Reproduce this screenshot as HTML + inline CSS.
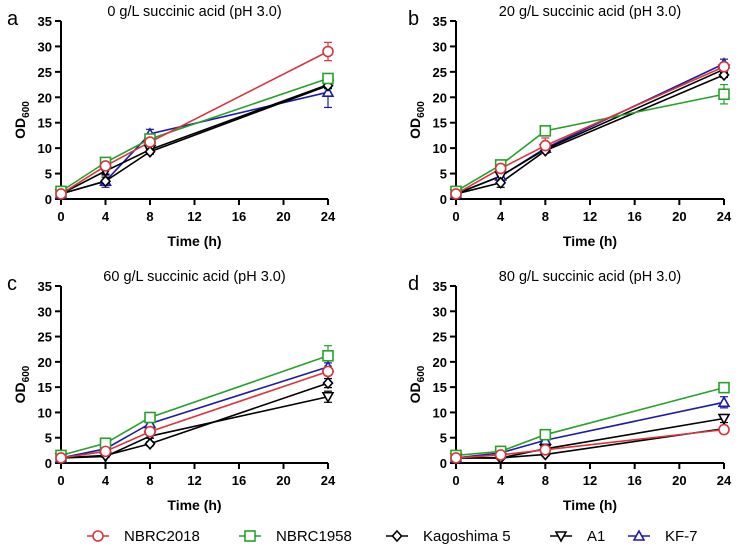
<!DOCTYPE html>
<html><head><meta charset="utf-8"><style>
body{margin:0;background:#fff;width:744px;height:552px;overflow:hidden;font-family:"Liberation Sans",Arial,sans-serif}
svg text{font-family:"Liberation Sans",Arial,sans-serif}
</style></head><body>
<svg id="c" width="744" height="552" xmlns="http://www.w3.org/2000/svg"></svg>
<script>
const times=[0,4,8,24];
const seriesNames=["NBRC2018","NBRC1958","Kagoshima 5","A1","KF-7"];
const seriesColors=["#d8363c","#27a12a","#000","#000","#1c1ca8"];
const yTicks=[0,5,10,15,20,25,30,35];
const xTicks=[0,4,8,12,16,20,24];
const panelTitles=["0 g/L succinic acid (pH 3.0)","20 g/L succinic acid (pH 3.0)","60 g/L succinic acid (pH 3.0)","80 g/L succinic acid (pH 3.0)"];
const panelLetters=["a","b","c","d"];
// values per panel: [NBRC2018, NBRC1958, Kagoshima5, A1, KF-7]
const valsA=[[1,6.5,11.2,29],[1.5,7.2,11.8,23.7],[1,3.5,9.3,22.3],[1,5.5,9.7,22.5],[1,3.5,12.8,21]];
const errsA=[[0.3,0.6,0.8,1.8],[0.3,0.5,0.6,0.8],[0.2,0.8,0.5,0.6],[0.2,0.6,0.5,0.6],[0.2,1.2,0.9,3]];
const valsB=[[1,6,10.5,26],[1.5,6.7,13.4,20.6],[1,3.2,9.5,24.4],[1,4.5,9.8,25.5],[1,4.5,10,26.6]];
const errsB=[[0.2,0.5,1.5,0.8],[0.3,0.4,0.6,1.9],[0.2,0.9,0.5,0.5],[0.2,0.5,0.5,0.6],[0.2,0.5,0.5,0.9]];
const valsC=[[1,2.3,6.2,18.1],[1.5,3.9,9,21.2],[1,1.5,3.8,15.8],[1,1.3,5.3,13.1],[1,2.8,7.8,19]];
const errsC=[[0.2,0.3,0.5,0.8],[0.2,0.3,0.4,2],[0.2,0.2,0.4,0.9],[0.2,0.2,0.4,1.1],[0.2,0.3,0.4,0.8]];
const valsD=[[1,1.6,2.6,6.6],[1.5,2.3,5.6,14.9],[1,1,1.7,6.8],[1,1,2.8,8.8],[1,2,4.5,12]];
const errsD=[[0.2,0.2,0.4,0.8],[0.2,0.3,0.9,0.8],[0.2,0.2,0.3,0.5],[0.2,0.2,0.4,0.8],[0.2,0.3,0.5,1.1]];
const panels=[{v:valsA,e:errsA,x0:61,x1:328,y0:199,y1:21},{v:valsB,e:errsB,x0:456,x1:724,y0:199,y1:21},
{v:valsC,e:errsC,x0:61,x1:328,y0:463,y1:286},{v:valsD,e:errsD,x0:456,x1:724,y0:463,y1:286}];
const NS="http://www.w3.org/2000/svg";
const svg=document.getElementById('c');
function mk(t,a,p){const el=document.createElementNS(NS,t);for(const k in a)el.setAttribute(k,a[k]);(p||svg).appendChild(el);return el;}
function marker(g,i,x,y,c){
 const s={fill:"#fff",stroke:c,"stroke-width":1.6};let m;
 if(i===0)m=mk("circle",Object.assign({cx:x,cy:y,r:5},s),g);
 else if(i===1)m=mk("rect",Object.assign({x:x-5,y:y-5,width:10,height:10},s),g);
 else if(i===2)m=mk("polygon",Object.assign({points:`${x},${y-5} ${x+4.5},${y} ${x},${y+5} ${x-4.5},${y}`},s),g);
 else if(i===3)m=mk("polygon",Object.assign({points:`${x-5},${y-4} ${x+5},${y-4} ${x},${y+5}`},s),g);
 else m=mk("polygon",Object.assign({points:`${x-5},${y+4} ${x+5},${y+4} ${x},${y-5}`},s),g);
 return m;
}
panels.forEach((P,pi)=>{
 const g=mk("g",{});
 
 
 const sx=t=>P.x0+(t/24)*(P.x1-P.x0);
 const sy=v=>P.y0-(v/35)*(P.y0-P.y1);
 mk("line",{x1:P.x0,y1:P.y1,x2:P.x0,y2:P.y0,stroke:"#000","stroke-width":2},g);
 mk("line",{x1:P.x0,y1:P.y0,x2:P.x1,y2:P.y0,stroke:"#000","stroke-width":2},g);
 yTicks.forEach(t=>{mk("line",{x1:P.x0-6,x2:P.x0,y1:sy(t),y2:sy(t),stroke:"#000","stroke-width":2},g);
  const tx=mk("text",{x:P.x0-9,y:sy(t)+5,"text-anchor":"end","font-size":13,"font-weight":"bold"},g);tx.textContent=t;
  });
 xTicks.forEach(t=>{mk("line",{x1:sx(t),x2:sx(t),y1:P.y0,y2:P.y0+6,stroke:"#000","stroke-width":2},g);
  const tx=mk("text",{x:sx(t),y:P.y0+22,"text-anchor":"middle","font-size":13,"font-weight":"bold"},g);tx.textContent=t;
  });
 const xt=mk("text",{x:(P.x0+P.x1)/2,y:P.y0+47,"text-anchor":"middle","font-size":14,"font-weight":"bold"},g);
 xt.textContent="Time (h)";
 const yt=mk("text",{transform:`translate(${P.x0-36},${(P.y0+P.y1)/2+10}) rotate(-90)`,"text-anchor":"middle","font-size":14,"font-weight":"bold"},g);
 yt.innerHTML='OD<tspan font-size="10" dy="4">600</tspan>';
 const ti=mk("text",{x:(P.x0+P.x1)/2,y:P.y1-5,"text-anchor":"middle","font-size":14.5},g);
 ti.textContent=panelTitles[pi];
 const le=mk("text",{x:P.x0-54+(pi%2?6:0),y:P.y1+4,"font-size":20},g);
 le.textContent=panelLetters[pi];
 [4,3,2,1,0].forEach(i=>{
  const c=seriesColors[i];
  const pts=times.map((t,k)=>sx(t)+","+sy(P.v[i][k])).join(" ");
  const l=mk("polyline",{points:pts,fill:"none",stroke:c,"stroke-width":1.6},g);
  
  times.forEach((t,k)=>{const x=sx(t),a=sy(P.v[i][k]+P.e[i][k]),b=sy(P.v[i][k]-P.e[i][k]);
   mk("line",{x1:x,x2:x,y1:a,y2:b,stroke:c,"stroke-width":1.2},g);
   mk("line",{x1:x-4,x2:x+4,y1:a,y2:a,stroke:c,"stroke-width":1.2},g);
   mk("line",{x1:x-4,x2:x+4,y1:b,y2:b,stroke:c,"stroke-width":1.2},g);});
 });
 [4,3,2,1,0].forEach(i=>{times.forEach((t,k)=>{
  const m=marker(g,i,sx(t),sy(P.v[i][k]),seriesColors[i]);
  });});
});
const legX=[98,250,397,561,639];
const lg=mk("g",{});


seriesNames.forEach((n,i)=>{
 const c=seriesColors[i];
 mk("line",{x1:legX[i]-11,x2:legX[i]+11,y1:536,y2:536,stroke:c,"stroke-width":1.6},lg);
 const m=marker(lg,i,legX[i],536,c);
 
 const t=mk("text",{x:legX[i]+26,y:541,"font-size":15},lg);t.textContent=n;
 
});
</script>
</body></html>
